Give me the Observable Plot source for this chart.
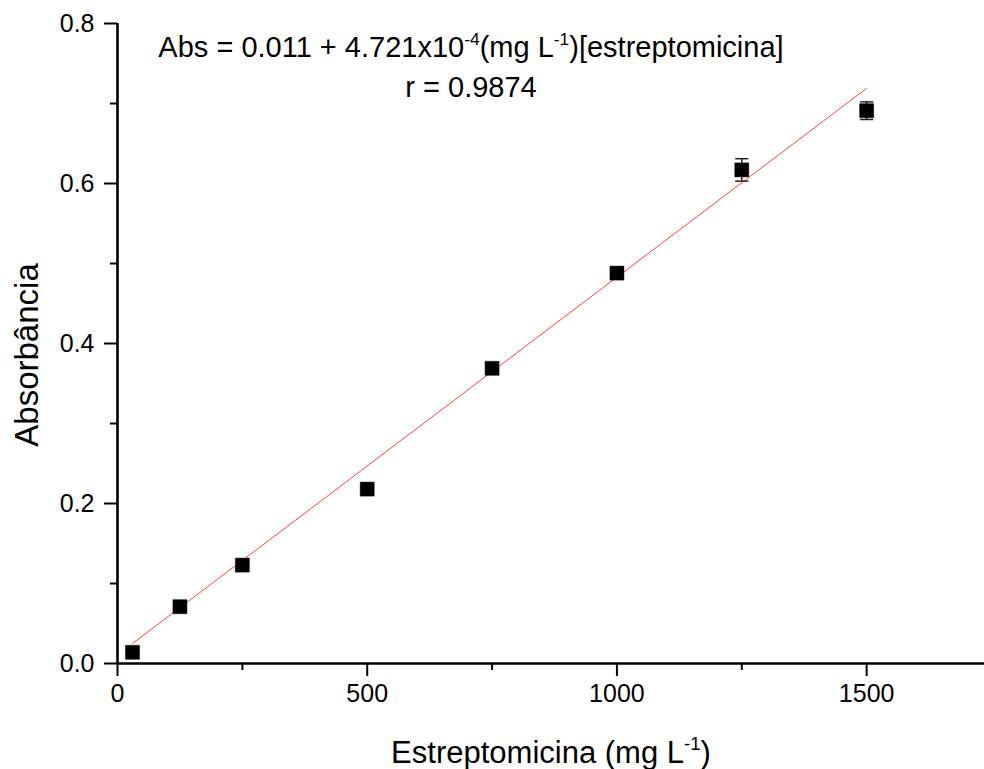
<!DOCTYPE html>
<html>
<head>
<meta charset="utf-8">
<script src="https://cdn.jsdelivr.net/npm/d3@7"></script>
<script src="https://cdn.jsdelivr.net/npm/@observablehq/plot@0.6"></script>
<style>
  html, body { margin: 0; padding: 0; background: #fff; }
  svg { font-family: "Liberation Sans", Arial, sans-serif; }
</style>
</head>
<body>
<div id="chart"></div>
<script>
// Data
const concentration = [30, 125, 250, 500, 750, 1000, 1250, 1500];
const absorbance    = [0.014, 0.071, 0.123, 0.218, 0.369, 0.488, 0.617, 0.691];
const errorAbs      = [0.003, 0.003, 0.004, 0.003, 0.004, 0.004, 0.014, 0.011];
const fitX = [30, 1500];
const fitY = [0.025, 0.719];
const xMajorTicks = [0, 500, 1000, 1500];
const xMinorTicks = [250, 750, 1250, 1750];
const yMajorTicks = [0, 0.2, 0.4, 0.6, 0.8];
const yMinorTicks = [0.1, 0.3, 0.5, 0.7];
const equationText = ["Abs = 0.011 + 4.721x10", "-4", "(mg L", "-1", ")[estreptomicina]"];
const rText = "r = 0.9874";
const xLabel = ["Estreptomicina (mg L", "-1", ")"];
const yLabel = "Absorbância";

const points = concentration.map((c, i) => ({x: c, y: absorbance[i], lo: absorbance[i] - errorAbs[i], hi: absorbance[i] + errorAbs[i]}));
const fit = fitX.map((x, i) => ({x, y: fitY[i]}));

const capSymbol = {
  draw(context, size) {
    const w = Math.sqrt(size) / 2;
    context.moveTo(-w, 0);
    context.lineTo(w, 0);
  }
};

const font = "'Liberation Sans', Arial, sans-serif";

const plot = Plot.plot({
  width: 984,
  height: 769,
  marginLeft: 117,
  marginRight: 0,
  marginTop: 23,
  marginBottom: 106,
  style: {fontFamily: font, background: "#fff", overflow: "visible"},
  x: {domain: [0, 1750], range: [117, 991], label: null},
  y: {domain: [0, 0.8], range: [663, 23], label: null},
  marks: [
    // minor ticks
    Plot.axisX({ticks: xMinorTicks, tickSize: 7, text: null, label: null, strokeWidth: 2, anchor: "bottom"}),
    Plot.axisY({ticks: yMinorTicks, tickSize: 7, text: null, label: null, strokeWidth: 2, anchor: "left"}),
    // major ticks
    Plot.axisX({ticks: xMajorTicks, tickSize: 13, tickPadding: 8, fontSize: 25, strokeWidth: 2, label: null, anchor: "bottom", tickFormat: d3.format("d"), fill: "#000"}),
    Plot.axisY({ticks: yMajorTicks, tickSize: 13, tickPadding: 10, fontSize: 25, strokeWidth: 2, label: null, anchor: "left", tickFormat: d3.format(".1f"), fill: "#000"}),
    // axis lines
    Plot.ruleY([0], {stroke: "#000", strokeWidth: 2.6}),
    Plot.ruleX([0], {y1: 0, y2: 0.8, stroke: "#000", strokeWidth: 2.6}),
    // fit line
    Plot.line(fit, {x: "x", y: "y", stroke: "#ff2020", strokeWidth: 1, strokeOpacity: 0.85}),
    // error bars
    Plot.ruleX(points, {x: "x", y1: "lo", y2: "hi", stroke: "#222", strokeWidth: 1.5}),
    Plot.dot(points, {x: "x", y: "lo", symbol: capSymbol, r: 7.4, stroke: "#222", strokeWidth: 1.5, fill: "none"}),
    Plot.dot(points, {x: "x", y: "hi", symbol: capSymbol, r: 7.4, stroke: "#222", strokeWidth: 1.5, fill: "none"}),
    // data points
    Plot.dot(points, {x: "x", y: "y", symbol: "square", r: 7.9, fill: "#000", stroke: "#000", strokeWidth: 0.5})
  ]
});

document.getElementById("chart").appendChild(plot);

const svg = d3.select(plot);

function addSupText(g, parts, attrs, size) {
  const t = g.append("text").attr("font-family", font).attr("font-size", size).attr("fill", "#000");
  Object.entries(attrs).forEach(([k, v]) => t.attr(k, v));
  parts.forEach((p, i) => {
    const sup = i % 2 === 1;
    t.append("tspan")
      .attr("font-size", sup ? size * 0.6 : size)
      .attr("dy", sup ? -size * 0.42 : (i > 0 ? size * 0.42 : 0))
      .text(p);
  });
  return t;
}

// equation annotation
addSupText(svg, equationText, {x: 471, y: 57, "text-anchor": "middle"}, 29);
svg.append("text").attr("x", 471).attr("y", 97).attr("text-anchor", "middle")
  .attr("font-family", font).attr("font-size", 29).attr("fill", "#000").text(rText);

// axis titles
addSupText(svg, xLabel, {x: 551, y: 763, "text-anchor": "middle"}, 31);
svg.append("text").attr("transform", "translate(38,355) rotate(-90)").attr("text-anchor", "middle")
  .attr("font-family", font).attr("font-size", 33).attr("fill", "#000").text(yLabel);
</script>
</body>
</html>
